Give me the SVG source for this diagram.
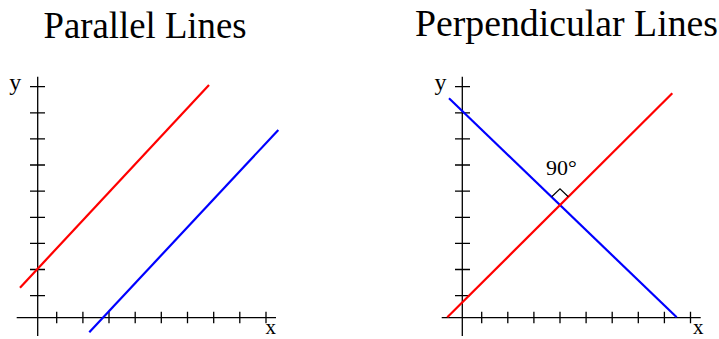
<svg xmlns="http://www.w3.org/2000/svg" width="719" height="339" viewBox="0 0 719 339">
<style>
.ax{stroke:#000;stroke-width:1.3;fill:none}
.t{font-family:"Liberation Serif","Times New Roman",serif;fill:#000}
.red{stroke:#ff0000;stroke-width:2.2;fill:none}
.blue{stroke:#0000ff;stroke-width:2.2;fill:none}
</style>
<rect width="719" height="339" fill="#fff"/>
<g id="parallel">
<text class="t" x="43.5" y="38.3" font-size="37" textLength="203" lengthAdjust="spacingAndGlyphs">Parallel Lines</text>
<path class="ax" d="M37.7,76.7V336M16.7,317.7H276
M30,86.7H45M30,112.8H45M30,138.9H45M30,165H45M30,191.2H45M30,217.3H45M30,243.4H45M30,269.5H45M30,295.7H45
M56.7,311.7V323.3M82.9,311.7V323.3M109,311.7V323.3M135.2,311.7V323.3M161.3,311.7V323.3M187.5,311.7V323.3M213.7,311.7V323.3M239.8,311.7V323.3M266,311.7V323.3"/>
<text class="t" x="9.3" y="90" font-size="24">y</text>
<text class="t" x="265.5" y="333.5" font-size="21">x</text>
<line class="red" x1="20" y1="287.7" x2="209" y2="85"/>
<line class="blue" x1="89.3" y1="332.3" x2="278.3" y2="130"/>
</g>
<g id="perpendicular">
<text class="t" x="415" y="35.5" font-size="37" textLength="303" lengthAdjust="spacingAndGlyphs">Perpendicular Lines</text>
<path class="ax" d="M462.3,76.7V336M441.7,317.7H700.7
M455,86.7H470M455,112.8H470M455,138.9H470M455,165H470M455,191.2H470M455,217.3H470M455,243.4H470M455,269.5H470M455,295.7H470
M481.7,311.7V323.3M507.8,311.7V323.3M533.9,311.7V323.3M560,311.7V323.3M586.1,311.7V323.3M612.2,311.7V323.3M638.3,311.7V323.3M664.4,311.7V323.3M690.5,311.7V323.3"/>
<text class="t" x="434.5" y="90" font-size="24">y</text>
<text class="t" x="693" y="333.5" font-size="21">x</text>
<line class="blue" x1="449" y1="98.3" x2="676.7" y2="317.3"/>
<line class="red" x1="447.3" y1="317.3" x2="672.3" y2="93.3"/>
<polyline points="551.7,196.8 560,188.8 568.3,196.8" fill="none" stroke="#000" stroke-width="1.2"/>
<text class="t" x="546" y="175" font-size="22">90°</text>
</g>
</svg>
